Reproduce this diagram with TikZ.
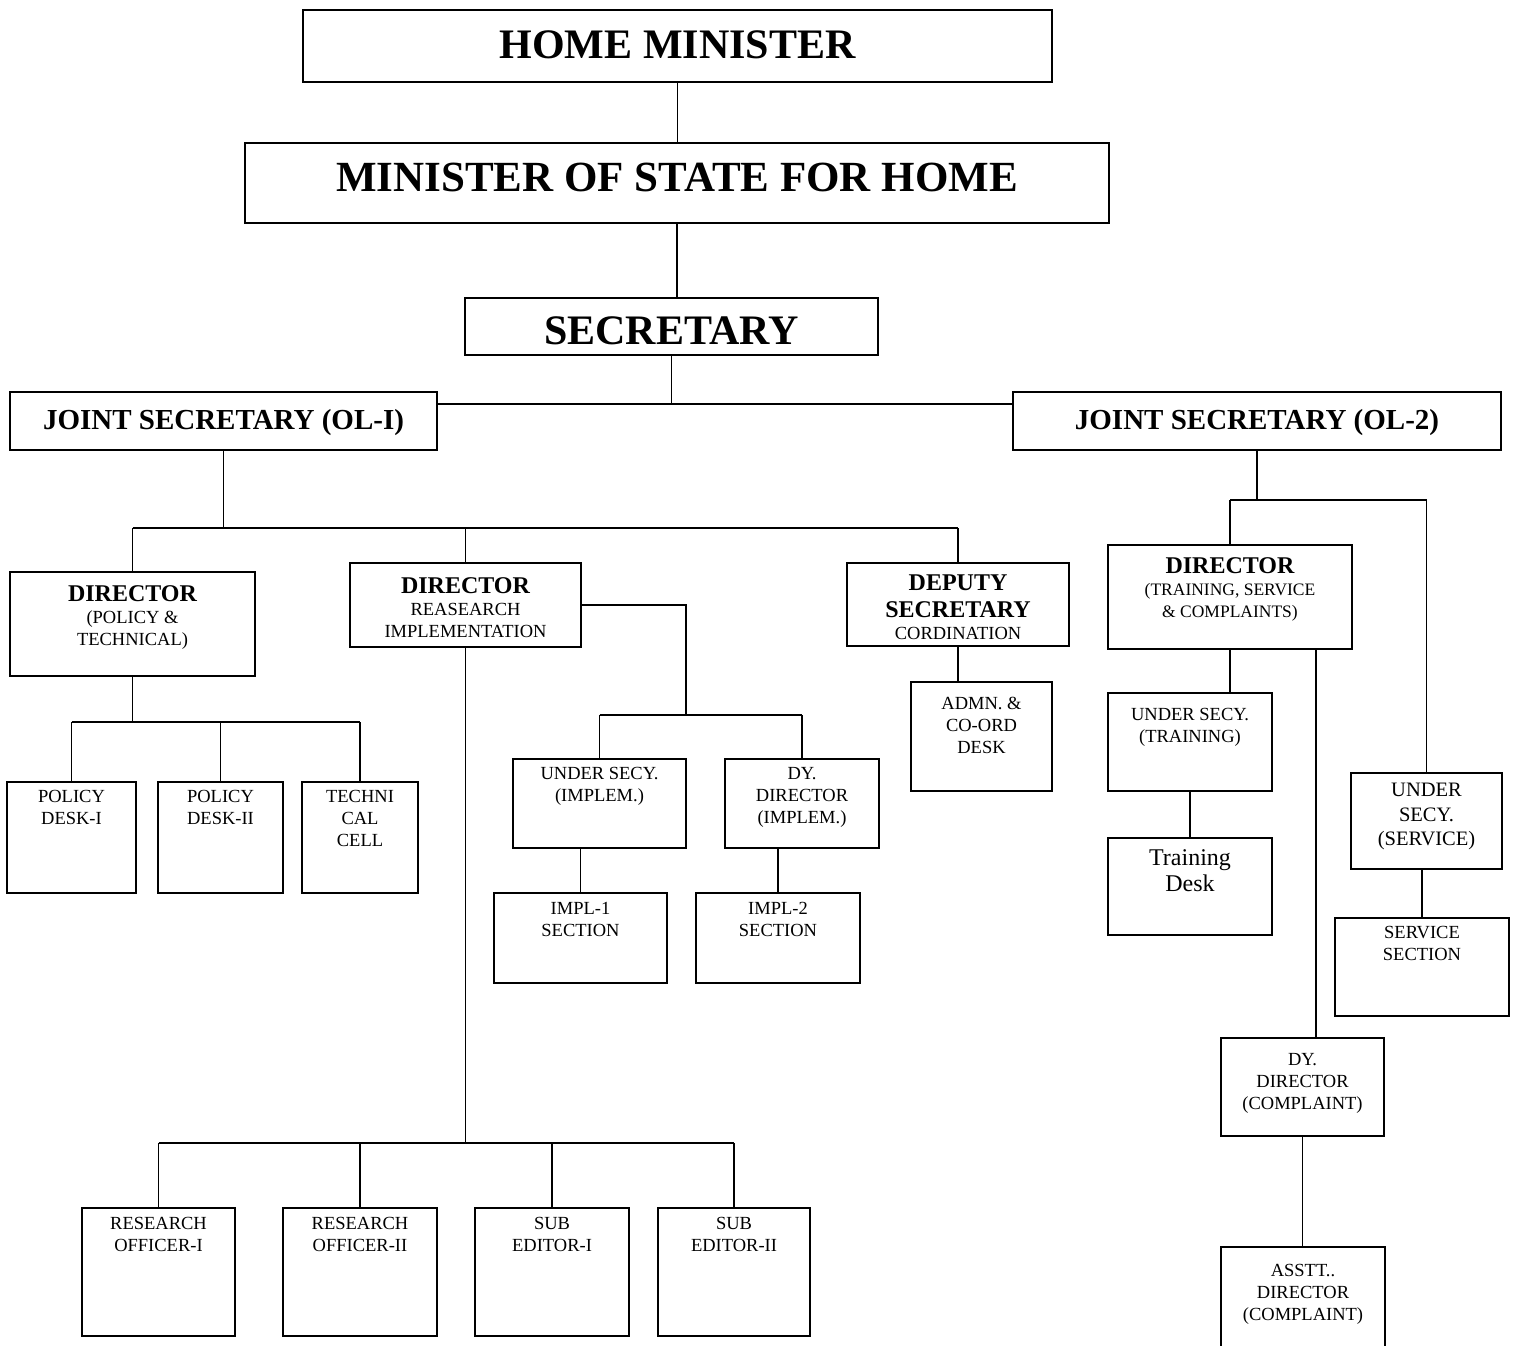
\documentclass[tikz,border=0pt]{standalone}
\usepackage{fontspec}
\setmainfont{Liberation Serif}
\newcommand\mkbox[5]{\node[box, minimum width={(#4-#2)*1pt}, minimum height={(#5-#3)*1pt}] (#1) at ({(#2+#4)/2},{(#3+#5)/2}) {};}
\newcommand\mktxt[4]{\node[lbl, #2, anchor=north] (#1t) at ([yshift=-#3pt]#1.north) {#4};}
\newcommand\hdr[1]{{\fontsize{24}{22}\selectfont\bfseries #1}}
\begin{document}
\begin{tikzpicture}[x=1pt,y=-1pt,
  box/.style={draw, line width=1.8pt, inner sep=0pt, outer sep=0pt},
  lbl/.style={align=center, inner sep=0pt, font=\fontsize{18.5}{22}\selectfont},
  big/.style={font=\fontsize{42}{48}\selectfont\bfseries},
  jsf/.style={font=\fontsize{29}{34}\selectfont\bfseries},
  conn/.style={line width=1.8pt}]
\useasboundingbox (0,0) rectangle (1515,1345);
\clip (0,0) rectangle (1515,1345);
% boxes
\mkbox{hm}{303}{10}{1052}{82}
\mkbox{mos}{245}{143}{1109}{223}
\mkbox{sec}{465}{298}{878}{355}
\mkbox{js1}{10}{392}{437}{450}
\mkbox{js2}{1013}{392}{1501}{450}
\mkbox{dpt}{10}{572}{255}{676}
\mkbox{dri}{350}{563}{581}{647}
\mkbox{dsec}{847}{563}{1069}{646}
\mkbox{pd1}{7}{782}{136}{893}
\mkbox{pd2}{158}{782}{283}{893}
\mkbox{tc}{302}{782}{418}{893}
\mkbox{usi}{513}{759}{686}{848}
\mkbox{dyi}{725}{759}{879}{848}
\mkbox{impl1}{494}{893}{667}{983}
\mkbox{impl2}{696}{893}{860}{983}
\mkbox{admn}{911}{682}{1052}{791}
\mkbox{ro1}{82}{1208}{235}{1336}
\mkbox{ro2}{283}{1208}{437}{1336}
\mkbox{se1}{475}{1208}{629}{1336}
\mkbox{se2}{658}{1208}{810}{1336}
\mkbox{dtsc}{1108}{545}{1352}{649}
\mkbox{ustr}{1108}{693}{1272}{791}
\mkbox{tdesk}{1108}{838}{1272}{935}
\mkbox{uss}{1351}{773}{1502}{869}
\mkbox{ssec}{1335}{918}{1509}{1016}
\mkbox{dyc}{1221}{1038}{1384}{1136}
\mkbox{asst}{1221}{1247}{1385}{1360}
% texts
\mktxt{hm}{big}{20}{HOME MINISTER}
\mktxt{mos}{font=\fontsize{43}{48}\selectfont\bfseries}{20}{MINISTER OF STATE FOR HOME}
\mktxt{sec}{big}{18}{SECRETARY}
\mktxt{js1}{jsf}{17}{JOINT SECRETARY (OL-I)}
\mktxt{js2}{jsf}{17}{JOINT SECRETARY (OL-2)}
\mktxt{dpt}{}{13}{\hdr{DIRECTOR}\\(POLICY \&\\TECHNICAL)}
\mktxt{dri}{}{14}{\hdr{DIRECTOR}\\REASEARCH\\IMPLEMENTATION}
\mktxt{dsec}{}{12}{\hdr{DEPUTY}\\[5pt]\hdr{SECRETARY}\\CORDINATION}
\mktxt{dtsc}{font=\fontsize{17.5}{22}\selectfont}{12}{\hdr{DIRECTOR}\\(TRAINING, SERVICE\\\& COMPLAINTS)}
\mktxt{pd1}{}{8}{POLICY\\DESK-I}
\mktxt{pd2}{}{8}{POLICY\\DESK-II}
\mktxt{tc}{}{8}{TECHNI\\CAL\\CELL}
\mktxt{usi}{}{8}{UNDER SECY.\\(IMPLEM.)}
\mktxt{dyi}{}{8}{DY.\\DIRECTOR\\(IMPLEM.)}
\mktxt{impl1}{}{9}{IMPL-1\\SECTION}
\mktxt{impl2}{}{9}{IMPL-2\\SECTION}
\mktxt{admn}{}{15}{ADMN. \&\\CO-ORD\\DESK}
\mktxt{ro1}{}{9}{RESEARCH\\OFFICER-I}
\mktxt{ro2}{}{9}{RESEARCH\\OFFICER-II}
\mktxt{se1}{}{9}{SUB\\EDITOR-I}
\mktxt{se2}{}{9}{SUB\\EDITOR-II}
\mktxt{ustr}{}{15}{UNDER SECY.\\(TRAINING)}
\mktxt{tdesk}{font=\fontsize{24}{26}\selectfont}{11}{Training\\Desk}
\mktxt{uss}{font=\fontsize{20.5}{24.5}\selectfont}{10}{UNDER\\SECY.\\(SERVICE)}
\mktxt{ssec}{}{8}{SERVICE\\SECTION}
\mktxt{dyc}{}{15}{DY.\\DIRECTOR\\(COMPLAINT)}
\mktxt{asst}{}{17}{ASSTT..\\DIRECTOR\\(COMPLAINT)}
% connectors
\coordinate (jsbar) at (672,404);
\coordinate (b1) at (0,528);
\coordinate (b2) at (0,722);
\coordinate (b3) at (686,715);
\coordinate (b4) at (0,1143);
\coordinate (b5) at (0,500);
\draw[conn] (hm.south) -- (hm.south |- mos.north);
\draw[conn] (mos.south) -- (mos.south |- sec.north);
\draw[conn] (sec.south) -- (sec.south |- jsbar);
\draw[conn] (js1.east |- jsbar) -- (js2.west |- jsbar);
% JS1 branch
\draw[conn] (js1.south) -- (js1.south |- b1);
\draw[conn] (dpt.north |- b1) -- (dsec.north |- b1);
\draw[conn] (dpt.north |- b1) -- (dpt.north);
\draw[conn] (dri.north |- b1) -- (dri.north);
\draw[conn] (dsec.north |- b1) -- (dsec.north);
% policy & technical
\draw[conn] (dpt.south) -- (dpt.south |- b2);
\draw[conn] (pd1.north |- b2) -- (tc.north |- b2);
\draw[conn] (pd1.north |- b2) -- (pd1.north);
\draw[conn] (pd2.north |- b2) -- (pd2.north);
\draw[conn] (tc.north |- b2) -- (tc.north);
% research implementation
\draw[conn] (dri.east) -| (b3);
\draw[conn] (usi.north |- b3) -- (dyi.north |- b3);
\draw[conn] (usi.north |- b3) -- (usi.north);
\draw[conn] (dyi.north |- b3) -- (dyi.north);
\draw[conn] (impl1.north |- usi.south) -- (impl1.north);
\draw[conn] (impl2.north |- dyi.south) -- (impl2.north);
\draw[conn] (dri.south) -- (dri.south |- b4);
\draw[conn] (ro1.north |- b4) -- (se2.north |- b4);
\draw[conn] (ro1.north |- b4) -- (ro1.north);
\draw[conn] (ro2.north |- b4) -- (ro2.north);
\draw[conn] (se1.north |- b4) -- (se1.north);
\draw[conn] (se2.north |- b4) -- (se2.north);
% deputy secretary
\draw[conn] (dsec.south) -- (dsec.south |- admn.north);
% JS2 branch
\draw[conn] (js2.south) -- (js2.south |- b5);
\draw[conn] (dtsc.north |- b5) -- (uss.north |- b5);
\draw[conn] (dtsc.north |- b5) -- (dtsc.north);
\draw[conn] (uss.north |- b5) -- (uss.north);
\draw[conn] (dtsc.south) -- (dtsc.south |- ustr.north);
\draw[conn] (ustr.south) -- (tdesk.north);
\draw[conn] (1316,0 |- dtsc.south) -- (1316,0 |- dyc.north);
\draw[conn] (dyc.south) -- (dyc.south |- asst.north);
\draw[conn] (ssec.north |- uss.south) -- (ssec.north);
\end{tikzpicture}
\end{document}
